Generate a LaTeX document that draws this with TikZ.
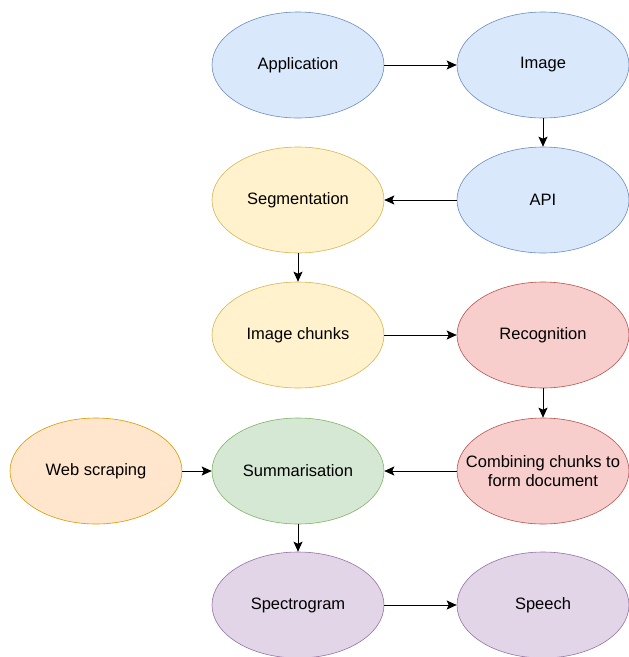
\documentclass[tikz,border=0pt]{standalone}
\usepackage{fontspec}
\setmainfont{Liberation Sans}
\usetikzlibrary{shapes.geometric,arrows.meta}
\definecolor{bluef}{HTML}{DAE8FC}\definecolor{blued}{HTML}{6C8EBF}
\definecolor{yelf}{HTML}{FFF2CC}\definecolor{yeld}{HTML}{D6B656}
\definecolor{redf}{HTML}{F8CECC}\definecolor{redd}{HTML}{B85450}
\definecolor{grnf}{HTML}{D5E8D4}\definecolor{grnd}{HTML}{82B366}
\definecolor{purf}{HTML}{E1D5E7}\definecolor{purd}{HTML}{9673A6}
\definecolor{orgf}{HTML}{FFE6CC}\definecolor{orgd}{HTML}{D79B00}
\tikzset{
  ell/.style={ellipse, minimum width=172pt, minimum height=106pt, inner sep=0pt,
    line width=0.6pt, align=center, font=\fontsize{16.5}{19.5}\selectfont},
  eblue/.style={ell, fill=bluef, draw=blued},
  eyel/.style={ell, fill=yelf, draw=yeld},
  ered/.style={ell, fill=redf, draw=redd},
  egrn/.style={ell, fill=grnf, draw=grnd},
  epur/.style={ell, fill=purf, draw=purd},
  eorg/.style={ell, fill=orgf, draw=orgd},
  conn/.style={-{Stealth[length=10pt,width=9pt,inset=2pt]}, line width=0.9pt, black}
}
\begin{document}
\begin{tikzpicture}[x=1pt,y=-1pt]
\useasboundingbox (0,0) rectangle (629,657);
\node[eblue] (app) at (298,65) {Application};
\node[eblue] (img) at (543,65) {Image};
\node[eblue] (api) at (543,200) {API};
\node[eyel] (seg) at (298,200) {Segmentation};
\node[eyel] (chunks) at (298,335) {Image chunks};
\node[ered] (rec) at (543,335) {Recognition};
\node[ered, inner xsep=-40pt, inner ysep=-10pt] (comb) at (543,471) {Combining chunks to\\form document};
\node[egrn] (sum) at (298,471) {Summarisation};
\node[eorg] (web) at (96,471) {Web scraping};
\node[epur] (spec) at (298,605) {Spectrogram};
\node[epur] (speech) at (543,605) {Speech};
\draw[conn] (app) -- (img);
\draw[conn] (img) -- (api);
\draw[conn] (api) -- (seg);
\draw[conn] (seg) -- (chunks);
\draw[conn] (chunks) -- (rec);
\draw[conn] (rec) -- (comb);
\draw[conn] (comb) -- (sum);
\draw[conn] (web) -- (sum);
\draw[conn] (sum) -- (spec);
\draw[conn] (spec) -- (speech);
\end{tikzpicture}
\end{document}
